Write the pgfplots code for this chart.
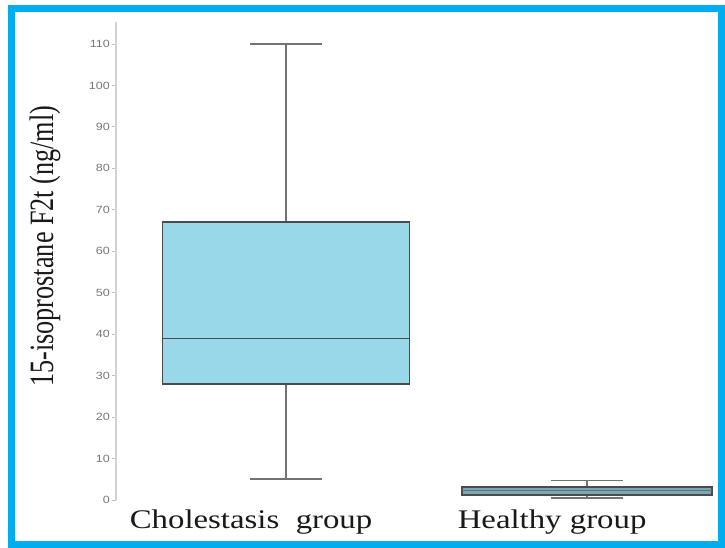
\documentclass[border=0pt]{standalone}
\usepackage{pgfplots}
\pgfplotsset{compat=1.18}
\usepackage{fontspec}
\setmainfont{Liberation Serif}
\setsansfont{Liberation Sans}
\definecolor{frameblue}{RGB}{0,174,239}
\definecolor{boxfill}{RGB}{152,216,233}
\definecolor{boxedge}{RGB}{75,75,75}
\definecolor{whisk}{RGB}{115,115,115}
\definecolor{ticktext}{RGB}{120,120,120}
\begin{document}
\begin{tikzpicture}
\useasboundingbox (0bp,0bp) rectangle (725bp,548bp);
\fill[white] (0bp,0bp) rectangle (725bp,548bp);
\draw[frameblue, line width=7bp] (11.5bp,3.5bp) rectangle (721.5bp,539bp);
\begin{axis}[
  at={(116bp,48bp)}, anchor=south west,
  width=599bp, height=478bp, scale only axis,
  xmin=0.435, xmax=2.425, ymin=0, ymax=115.3,
  axis lines*=left,
  x axis line style={draw=none},
  y axis line style={draw=gray!35, line width=1.2pt},
  xtick={1,2},
  xticklabels={{\scalebox{1.22}[1]{\fontsize{27}{27}\selectfont Cholestasis\ \ group}},{\scalebox{1.22}[1]{\fontsize{27}{27}\selectfont Healthy group}}},
  xticklabel style={xshift=-35bp, yshift=-2bp, text=black!90},
  x tick style={draw=none},
  ytick={0,10,...,110},
  y tick style={draw=gray!50, line width=0.8pt},
  tick align=outside, major tick length=4bp,
  /pgf/number format/assume math mode=true,
  yticklabel={\scalebox{1.2}[1]{\pgfmathprintnumber{\tick}}},
  yticklabel style={font=\sffamily\fontsize{10.5}{10.5}\selectfont, text=ticktext, inner sep=2bp},
  ylabel={\scalebox{1}[1.3]{\fontsize{26.3}{26.3}\selectfont 15-isoprostane F2t (ng/ml)}},
  ylabel style={at={(axis description cs:-0.1185,0.531)}, anchor=center, text=black!90},
  clip=false,
]
% Cholestasis group: whiskers 5 / 110, quartiles 28 / 67, median 39
\addplot[whisk, line width=1.6pt] coordinates {(1,67) (1,110)};
\addplot[whisk, line width=1.6pt] coordinates {(1,5) (1,28)};
\addplot[whisk, line width=1.6pt] coordinates {(0.88,110) (1.12,110)};
\addplot[whisk, line width=1.6pt] coordinates {(0.88,5) (1.12,5)};
\addplot[fill=boxfill, draw=boxedge, line width=1.5pt] coordinates {(0.59,28) (1.41,28) (1.41,67) (0.59,67)} -- cycle;
\addplot[boxedge, line width=1.6pt] coordinates {(0.59,39) (1.41,39)};
% Healthy group: whiskers 0.5 / 4.7, quartiles 1.2 / 3.1, median 2.4
\addplot[whisk, line width=1.4pt] coordinates {(2,3.1) (2,4.7)};
\addplot[whisk, line width=1.4pt] coordinates {(2,0.5) (2,1.2)};
\addplot[whisk, line width=1.4pt] coordinates {(1.88,4.7) (2.12,4.7)};
\addplot[whisk, line width=1.4pt] coordinates {(1.88,0.5) (2.12,0.5)};
\addplot[fill=boxfill!78!black, draw=boxedge, line width=1.4pt] coordinates {(1.585,1.2) (2.415,1.2) (2.415,3.1) (1.585,3.1)} -- cycle;
\addplot[boxedge!80, line width=0.8pt] coordinates {(1.585,2.4) (2.415,2.4)};
\end{axis}
\end{tikzpicture}
\end{document}
